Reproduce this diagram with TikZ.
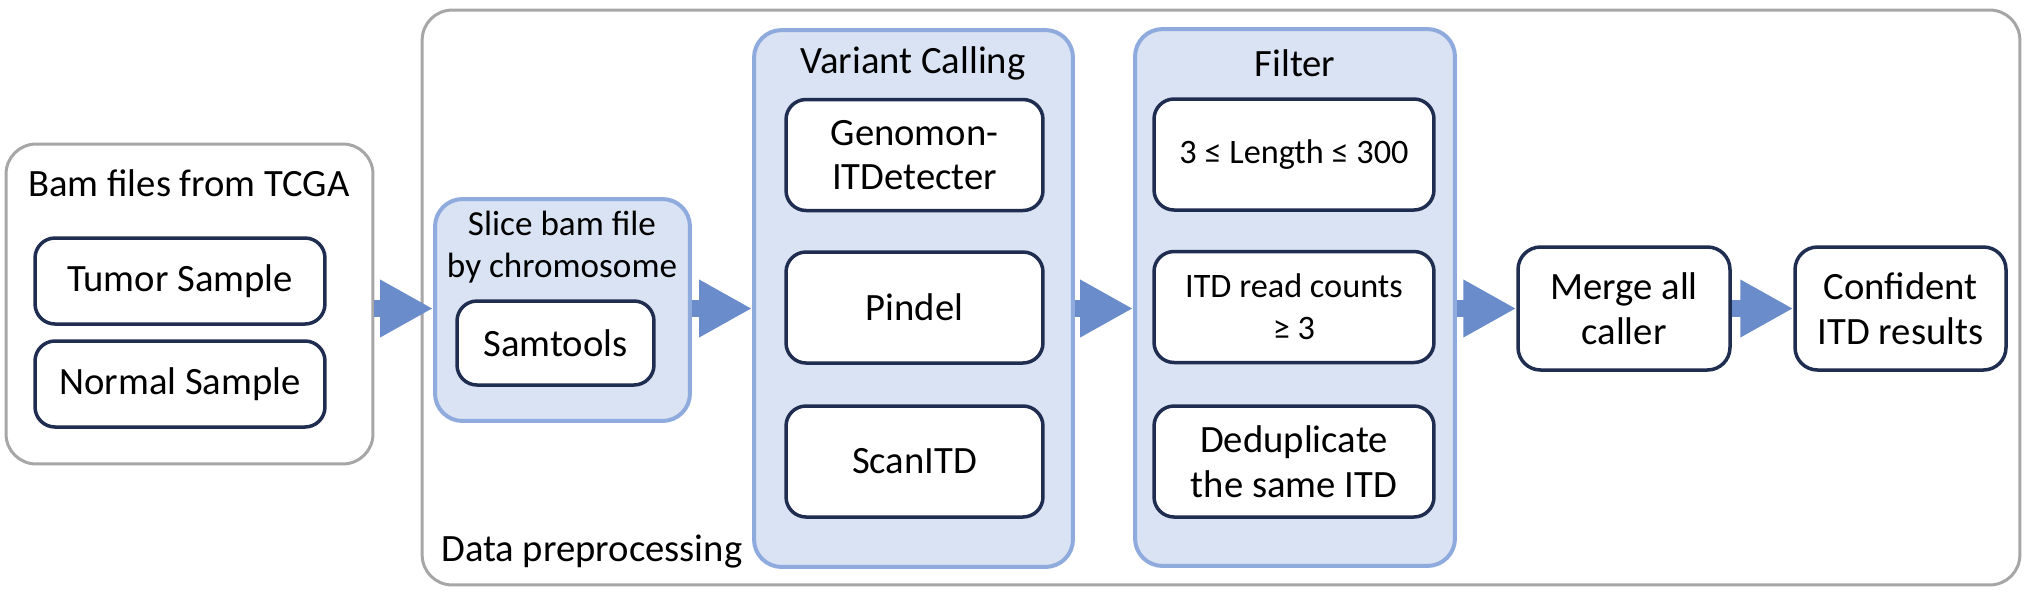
\documentclass[tikz,border=0pt]{standalone}
\usepackage{fontspec}
\setmainfont{Carlito}
\usetikzlibrary{arrows.meta}
\definecolor{boxline}{HTML}{1F2D50}
\definecolor{grayline}{HTML}{A6A6A6}
\definecolor{blueline}{HTML}{8FAADC}
\definecolor{bluefill}{HTML}{DAE3F3}
\definecolor{flowblue}{HTML}{6A8CCB}
\begin{document}
\begin{tikzpicture}[x=0.02cm,y=-0.02cm,font=\fontsize{22}{25.5}\selectfont]
        \tikzstyle{group}=[draw=grayline,line width=0.06cm,rounded corners=0.6cm,inner sep=0pt]
        \tikzstyle{stage}=[draw=blueline,fill=bluefill,line width=0.08cm,rounded corners=0.55cm,inner sep=0pt]
        \tikzstyle{tool}=[draw=boxline,fill=white,line width=0.07cm,rounded corners=0.4cm,align=center,inner sep=0pt]
        \tikzstyle{title}=[align=center,inner sep=0pt]
        \tikzstyle{flow}=[draw=flowblue,line width=0.34cm,-{Triangle[length=1.06cm,width=1.08cm]}]
        \useasboundingbox (0,0) rectangle (2038,600);

        % outer groups
        \node[group,minimum width=31.96cm,minimum height=11.5cm] (prep) at (1221,297.5) {};
        \node[title,anchor=west] (preplabel) at (441,552) {Data preprocessing};
        \node[group,minimum width=7.34cm,minimum height=6.4cm] (bam) at (189.5,304) {};
        \node[title] (bamtitle) at (189,183) {Bam files from TCGA};
        \node[tool,minimum width=5.8cm,minimum height=1.72cm] (tumor) at (180,281) {Tumor Sample};
        \node[tool,minimum width=5.8cm,minimum height=1.72cm] (normal) at (180,384) {Normal Sample};

        % slicing
        \node[stage,minimum width=5.1cm,minimum height=4.44cm] (slice) at (562.5,310) {};
        \node[title,font=\fontsize{20}{24}\selectfont] (slicetitle) at (562,247) {Slice bam file\\by chromosome};
        \node[tool,minimum width=3.94cm,minimum height=1.68cm] (samtools) at (555.5,343) {Samtools};

        % variant calling
        \node[stage,minimum width=6.38cm,minimum height=10.74cm] (vc) at (913.5,298.5) {};
        \node[title] (vctitle) at (913,63) {Variant Calling};
        \node[tool,minimum width=5.14cm,minimum height=2.22cm] (genomon) at (914.5,155) {Genomon-\\ITDetecter};
        \node[tool,minimum width=5.14cm,minimum height=2.22cm] (pindel) at (914.5,307.5) {Pindel};
        \node[tool,minimum width=5.14cm,minimum height=2.22cm] (scanitd) at (914.5,461.5) {ScanITD};

        % filter
        \node[stage,minimum width=6.4cm,minimum height=10.74cm] (filter) at (1295,297.5) {};
        \node[title] (filtertitle) at (1295,63) {Filter};
        \node[tool,minimum width=5.6cm,minimum height=2.22cm,font=\fontsize{19.5}{24}\selectfont] (length) at (1294,154.5) {3 ≤ Length ≤ 300};
        \node[tool,minimum width=5.6cm,minimum height=2.22cm,font=\fontsize{19.5}{24}\selectfont] (reads) at (1294,307) {ITD read counts\\≥ 3};
        \node[tool,minimum width=5.6cm,minimum height=2.22cm] (dedup) at (1294,461.5) {Deduplicate\\the same ITD};

        % results
        \node[tool,minimum width=4.24cm,minimum height=2.46cm,rounded corners=0.45cm] (merge) at (1624,308.5) {Merge all\\caller};
        \node[tool,minimum width=4.22cm,minimum height=2.46cm,rounded corners=0.45cm] (conf) at (1900.5,308.5) {Confident\\ITD results};

        \draw[flow] (bam.east |- merge.west) -- (slice.west |- merge.west);
        \draw[flow] (slice.east |- merge.west) -- (vc.west |- merge.west);
        \draw[flow] (vc.east |- merge.west) -- (filter.west |- merge.west);
        \draw[flow] (filter.east |- merge.west) -- (merge.west);
        \draw[flow] (merge.east) -- (conf.west);
    \end{tikzpicture}
\end{document}
